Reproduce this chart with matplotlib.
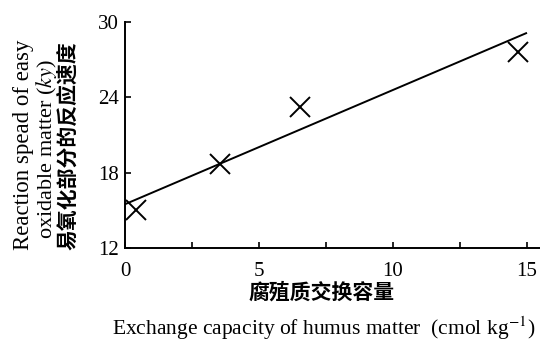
import matplotlib
matplotlib.use("Agg")
import matplotlib.pyplot as plt

plt.rcParams["font.family"] = ["Liberation Serif", "DejaVu Serif"]
plt.rcParams["mathtext.fontset"] = "stix"

# measured points: humus exchange capacity vs reaction speed
capacity = [0.39, 3.54, 6.53, 14.66]
speed = [15.04, 18.67, 23.26, 27.63]

# fitted line end points
fit_x = [0.0, 14.98]
fit_y = [15.52, 29.09]

x_ticks = [0, 5, 10, 15]
x_minor = [2.5, 7.5, 12.5]
y_ticks = [12, 18, 24, 30]

fig = plt.figure(figsize=(5.4, 3.43), dpi=100)
ax = fig.add_axes([0.2324, 0.276, 0.7676, 0.6606])

ax.plot(fit_x, fit_y, color="black", lw=1.4)
ax.plot(capacity, speed, "x", color="black", markersize=14, markeredgewidth=1.4)

ax.set_xlim(0, 15.5)
ax.set_ylim(12, 30)
ax.set_xticks(x_ticks)
ax.set_xticks(x_minor, minor=True)
ax.set_yticks(y_ticks)
ax.tick_params(axis="x", pad=10)
ax.tick_params(axis="y", pad=5)
ax.tick_params(direction="in", length=4, width=1.2, labelsize=15)
ax.tick_params(which="minor", direction="in", length=4, width=1.2)
ax.spines["top"].set_visible(False)
ax.spines["right"].set_visible(False)
for s in ("left", "bottom"):
    ax.spines[s].set_linewidth(1.4)

cjk = ["Noto Sans CJK SC", "DejaVu Sans"]
fig.text(322 / 540, 1 - 292.5 / 343, "腐殖质交换容量", family=cjk, fontweight="bold",
         fontsize=15, ha="center", va="center")
fig.text(323.5 / 540, 1 - 328 / 343, r"Exchange capacity of humus matter  (cmol kg$^{-1}$)",
         fontsize=15.5, ha="center", va="center")

# three-line y label, placed by baseline
ylab = dict(rotation=90, rotation_mode="anchor", ha="center", va="baseline")
fig.text(29 / 540, 1 - 145 / 343, "Reaction spead of easy", fontsize=16.5, **ylab)
fig.text(52 / 540, 1 - 148.5 / 343, r"oxidable matter ($ky$)", fontsize=16, **ylab)
fig.text(74 / 540, 1 - 145.5 / 343, "易氧化部分的反应速度", family=cjk, fontweight="bold",
         fontsize=15, **ylab)

fig.savefig("out.png", dpi=100)
